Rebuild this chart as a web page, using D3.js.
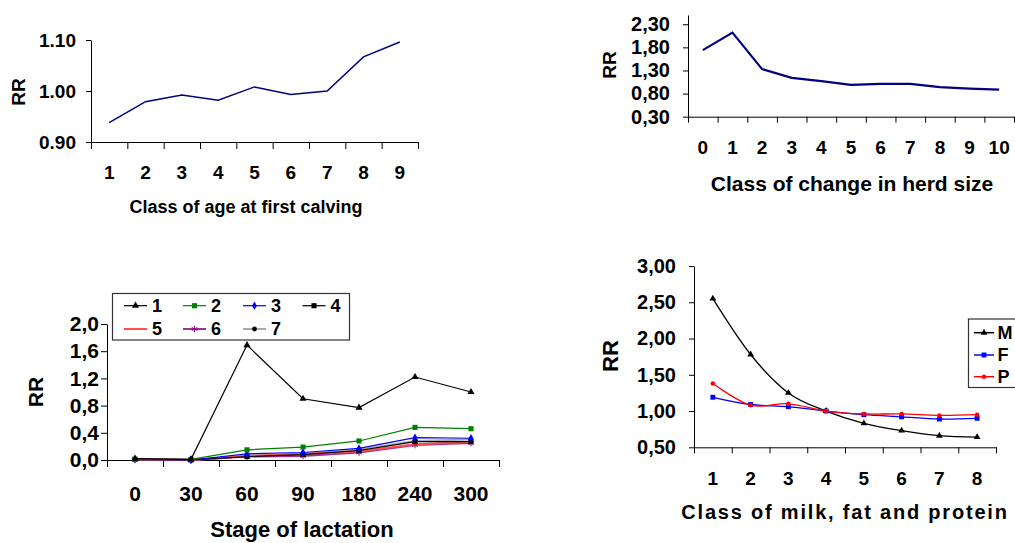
<!DOCTYPE html>
<html>
<head>
<meta charset="utf-8">
<script src="https://cdn.jsdelivr.net/npm/d3@7"></script>
<style>
  body { margin: 0; background: #fff; }
  svg text { font-family: "Liberation Sans", Arial, sans-serif; font-weight: bold; fill: #000; }
</style>
</head>
<body>
<div id="chart"></div>
<script>
// Values.
let ageClasses = ["1", "2", "3", "4", "5", "6", "7", "8", "9"];
let ageRR = [0.938, 0.979, 0.992, 0.982, 1.008, 0.993, 1.000, 1.067, 1.096];
let ageTicks = [0.90, 1.00, 1.10];

let herdClasses = ["0", "1", "2", "3", "4", "5", "6", "7", "8", "9", "10"];
let herdRR = [1.74, 2.12, 1.33, 1.14, 1.07, 0.99, 1.01, 1.01, 0.94, 0.906, 0.885];
let herdTicks = [0.30, 0.80, 1.30, 1.80, 2.30];

let stageLabels = ["0", "30", "60", "90", "180", "240", "300"];
let stage1 = [0.02, 0.01, 1.69, 0.90, 0.77, 1.22, 1.00];
let stage2 = [0.01, 0.01, 0.15, 0.19, 0.28, 0.48, 0.46];
let stage3 = [0.01, 0.00, 0.09, 0.11, 0.17, 0.33, 0.32];
let stage4 = [0.01, 0.00, 0.05, 0.08, 0.14, 0.27, 0.27];
let stage5 = [0.01, 0.00, 0.06, 0.09, 0.13, 0.23, 0.27];
let stage6 = [0.01, 0.00, 0.05, 0.06, 0.11, 0.22, 0.25];
let stage7 = [0.01, 0.00, 0.06, 0.09, 0.15, 0.28, 0.30];
let stageTicks = [0, 0.4, 0.8, 1.2, 1.6, 2.0];

let milkClasses = ["1", "2", "3", "4", "5", "6", "7", "8"];
let milkM = [2.55, 1.78, 1.25, 1.00, 0.83, 0.73, 0.66, 0.64];
let milkF = [1.19, 1.09, 1.06, 1.00, 0.95, 0.92, 0.89, 0.90];
let milkP = [1.38, 1.08, 1.10, 1.00, 0.96, 0.96, 0.94, 0.95];
let milkTicks = [0.50, 1.00, 1.50, 2.00, 2.50, 3.00];

let svg = d3.select("#chart")
            .append("svg")
            .attr("width", 1015)
            .attr("height", 543);

let comma = d => d3.format(".2f")(d).replace(".", ",");
let comma1 = d => d3.format(".1f")(d).replace(".", ",");

// Draws axes, tick labels and titles for one panel; returns the scales.
function panel(p) {
    let x = d3.scaleBand().domain(p.cats).range([p.x0, p.x1]).padding(0);
    let xb = d3.scaleLinear().domain([0, p.cats.length]).range([p.x0, p.x1]);
    let y = d3.scaleLinear().domain(p.yDomain).range([p.y0, p.y1]);

    // x axis line with ticks at band edges
    svg.append("g")
       .attr("transform", "translate(0," + p.y0 + ")")
       .call(d3.axisBottom(xb).tickValues(d3.range(p.cats.length + 1))
             .tickSize(p.xTick || p.tick).tickSizeOuter(0).tickFormat(""))
       .call(g => g.selectAll("line, path").attr("stroke", "#000"));

    // x labels at band centres
    let xl = svg.append("g")
       .attr("transform", "translate(0," + p.y0 + ")")
       .call(d3.axisBottom(x).tickSize(0));
    xl.select(".domain").remove();
    xl.selectAll("text")
      .attr("y", p.xLabelY - p.y0).attr("dy", null)
      .style("font-size", p.xFont + "px")
      .style("font-family", null);

    // y axis
    let ya = svg.append("g")
       .attr("transform", "translate(" + p.x0 + ",0)")
       .call(d3.axisLeft(y).tickValues(p.yTicks).tickFormat(p.fmt)
             .tickSize(p.tick).tickSizeOuter(0).tickPadding(p.yPad));
    ya.selectAll("line, path").attr("stroke", "#000");
    ya.selectAll("text").style("font-size", p.yFont + "px").style("font-family", null);

    // titles
    svg.append("text")
       .attr("x", p.titleX).attr("y", p.titleY)
       .attr("text-anchor", "middle")
       .style("font-size", p.titleFont + "px")
       .style("letter-spacing", (p.spacing || 0) + "px")
       .text(p.title);

    svg.append("text")
       .attr("transform", "translate(" + p.rrX + "," + p.rrY + ") rotate(-90)")
       .attr("text-anchor", "middle")
       .attr("dominant-baseline", "central")
       .style("font-size", p.rrFont + "px")
       .text("RR");

    return {x: x, y: y};
}

function drawLine(s, cats, vals, color, width, curve) {
    svg.append("path")
       .datum(vals)
       .attr("fill", "none")
       .attr("stroke", color)
       .attr("stroke-width", width)
       .attr("d", d3.line()
            .x((d, i) => s.x(cats[i]) + s.x.bandwidth() / 2)
            .y(d => s.y(d))
            .curve(curve || d3.curveLinear));
}

function drawMarks(s, cats, vals, type, size, fill, stroke) {
    svg.append("g")
       .selectAll("path")
       .data(vals)
       .enter()
       .append("path")
       .attr("transform", (d, i) => "translate(" + (s.x(cats[i]) + s.x.bandwidth() / 2) + "," + s.y(d) + ")")
       .attr("d", d3.symbol().type(type).size(size))
       .attr("fill", fill)
       .attr("stroke", stroke || "none")
       .attr("stroke-width", 1);
}

// Panel 1: age at first calving
let s1 = panel({cats: ageClasses, x0: 91, x1: 418, yDomain: [0.90, 1.10], y0: 142, y1: 40,
                yTicks: ageTicks, fmt: d3.format(".2f"), tick: 5, xTick: 7, yPad: 10, yFont: 19,
                xLabelY: 179, xFont: 19, title: "Class of age at first calving", titleX: 246, titleY: 213,
                titleFont: 18, rrX: 18, rrY: 92, rrFont: 19});
drawLine(s1, ageClasses, ageRR, "#000080", 1.5);

// Panel 2: change in herd size
let s2 = panel({cats: herdClasses, x0: 688, x1: 1014, yDomain: [0.30, 2.50], y0: 116.7, y1: 15,
                yTicks: herdTicks, fmt: comma, tick: 5, xTick: 6, yPad: 13, yFont: 20,
                xLabelY: 154, xFont: 19, title: "Class of change in herd size", titleX: 852, titleY: 191,
                titleFont: 21, rrX: 609, rrY: 65, rrFont: 19});
drawLine(s2, herdClasses, herdRR, "#000080", 2.2);

// Panel 3: stage of lactation
let s3 = panel({cats: stageLabels, x0: 107, x1: 499, yDomain: [0, 2.0], y0: 460, y1: 324,
                yTicks: stageTicks, fmt: comma1, tick: 6, xTick: 7, yPad: 2, yFont: 21,
                xLabelY: 501, xFont: 21, title: "Stage of lactation", titleX: 302, titleY: 537,
                titleFont: 22, rrX: 35, rrY: 392, rrFont: 21});

let astr = d3.symbolAsterisk || d3.symbolCross;
let stageSeries = [
    {name: "1", vals: stage1, color: "#000", w: 1.2, type: d3.symbolTriangle, size: 22, fill: "#000"},
    {name: "2", vals: stage2, color: "#008000", w: 1.2, type: d3.symbolSquare, size: 26, fill: "#008000"},
    {name: "3", vals: stage3, color: "#0000ff", w: 1.2, type: d3.symbolDiamond, size: 20, fill: "#0000ff"},
    {name: "4", vals: stage4, color: "#000", w: 1.2, type: d3.symbolSquare, size: 26, fill: "#000"},
    {name: "5", vals: stage5, color: "#ff5050", w: 2, type: null},
    {name: "6", vals: stage6, color: "#993399", w: 2, type: astr, size: 30, fill: "none", stroke: "#800080"},
    {name: "7", vals: stage7, color: "#aaaaaa", w: 2, type: d3.symbolCircle, size: 18, fill: "#000"}
];
stageSeries.slice().reverse().forEach(function(sr) {
    drawLine(s3, stageLabels, sr.vals, sr.color, sr.w);
    if (sr.type) drawMarks(s3, stageLabels, sr.vals, sr.type, sr.size, sr.fill, sr.stroke);
});

// legend of panel 3
let lg3 = svg.append("g");
lg3.append("rect").attr("x", 112.5).attr("y", 293.5).attr("width", 237).attr("height", 46.5)
   .attr("fill", "#fff").attr("stroke", "#333").attr("stroke-width", 1.2);
let legCols = [124, 183, 243, 302.5];
let legRows = [305.7, 329];
stageSeries.forEach(function(sr, i) {
    let lx = legCols[i % 4], ly = legRows[Math.floor(i / 4)];
    lg3.append("line").attr("x1", lx).attr("x2", lx + 23).attr("y1", ly).attr("y2", ly)
       .attr("stroke", sr.color).attr("stroke-width", sr.w);
    if (sr.type) {
        lg3.append("path").attr("transform", "translate(" + (lx + 11.5) + "," + ly + ")")
           .attr("d", d3.symbol().type(sr.type).size(sr.size))
           .attr("fill", sr.fill).attr("stroke", sr.stroke || "none");
    }
    lg3.append("text").attr("x", lx + 28).attr("y", ly).attr("dominant-baseline", "central")
       .style("font-size", "18px").text(sr.name);
});

// Panel 4: milk, fat and protein
let s4 = panel({cats: milkClasses, x0: 694, x1: 996, yDomain: [0.50, 3.00], y0: 447.3, y1: 266,
                yTicks: milkTicks, fmt: comma, tick: 5, xTick: 6, yPad: 13, yFont: 20,
                xLabelY: 485, xFont: 19, title: "Class of milk, fat and protein", titleX: 845, titleY: 519,
                titleFont: 20, spacing: 1.8, rrX: 610, rrY: 356, rrFont: 22});

let milkSeries = [
    {name: "M", vals: milkM, color: "#000", type: d3.symbolTriangle, size: 20},
    {name: "F", vals: milkF, color: "#0000ff", type: d3.symbolSquare, size: 24},
    {name: "P", vals: milkP, color: "#ff0000", type: d3.symbolCircle, size: 16}
];
milkSeries.forEach(function(sr) {
    drawLine(s4, milkClasses, sr.vals, sr.color, 1.3, d3.curveCardinal.tension(0));
    drawMarks(s4, milkClasses, sr.vals, sr.type, sr.size, sr.color);
});

// legend of panel 4
let lg4 = svg.append("g");
lg4.append("rect").attr("x", 968.5).attr("y", 319).attr("width", 60).attr("height", 68.5)
   .attr("fill", "#fff").attr("stroke", "#333").attr("stroke-width", 1.2);
let legRows4 = [332.7, 355, 376.7];
milkSeries.forEach(function(sr, i) {
    let ly = legRows4[i];
    lg4.append("line").attr("x1", 974).attr("x2", 994).attr("y1", ly).attr("y2", ly)
       .attr("stroke", sr.color).attr("stroke-width", 1.5);
    lg4.append("path").attr("transform", "translate(984," + ly + ")")
       .attr("d", d3.symbol().type(sr.type).size(sr.size)).attr("fill", sr.color);
    lg4.append("text").attr("x", 997.5).attr("y", ly).attr("dominant-baseline", "central")
       .style("font-size", "18px").text(sr.name);
});
</script>
</body>
</html>
